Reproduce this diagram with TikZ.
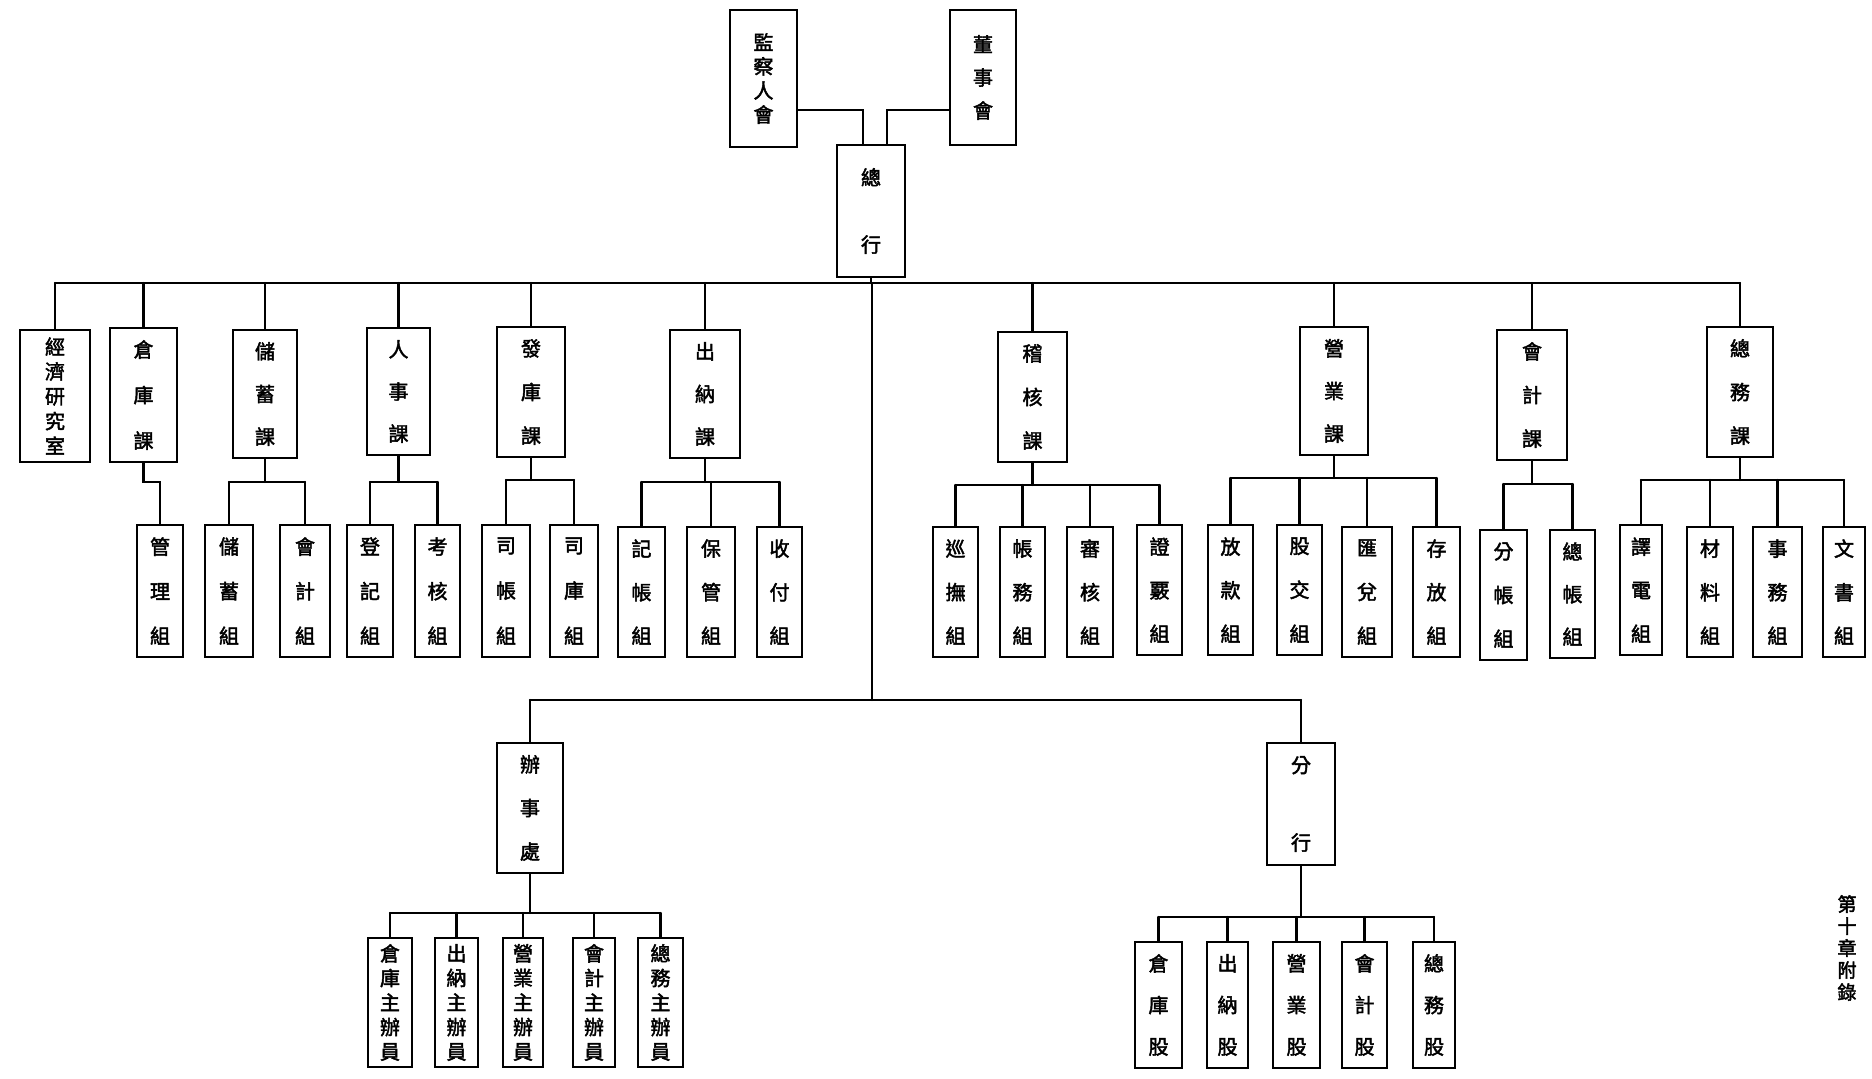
\documentclass[tikz,border=0pt]{standalone}
\usepackage{fontspec}
\newfontfamily\cjk[AutoFakeBold=2.2]{Noto Sans CJK TC}
\newcommand{\VS}{\par\vfill}
% \bx{name}{x1}{y1}{x2}{y2}{pad}{chars}
\newcommand{\bx}[7]{\node[orgbox, minimum width={#4-#2}, minimum height={#5-#3}] (#1) at ({(#2+#4)/2},{(#3+#5)/2}) {\parbox[c][\dimexpr #5pt-#3pt-#6pt-#6pt\relax][s]{30pt}{\centering #7}};}
\begin{document}
\begin{tikzpicture}[x=1pt,y=-1pt,
  line width=2.2pt, line cap=round,
  orgbox/.style={draw, line width=2pt, inner sep=0pt, font=\cjk\bfseries\fontsize{20}{22}\selectfont},
  sidetext/.style={inner sep=0pt, font=\cjk\bfseries\fontsize{19}{22}\selectfont}]
\fill[white] (0,0) rectangle (1872,1079);
\useasboundingbox (0,0) rectangle (1872,1079);

% ---- top ----
\bx{jc}{730}{10}{797}{147}{24}{監\VS 察\VS 人\VS 會}
\bx{ds}{950}{10}{1016}{145}{26}{董\VS 事\VS 會}
\bx{zh}{837}{145}{905}{277}{24}{總\VS 行}

% ---- level 2 ----
\bx{jj}{20}{330}{90}{462}{8}{經\VS 濟\VS 研\VS 究\VS 室}
\bx{ck}{110}{328}{177}{462}{13}{倉\VS 庫\VS 課}
\bx{cx}{233}{330}{297}{458}{13}{儲\VS 蓄\VS 課}
\bx{rs}{367}{328}{430}{455}{13}{人\VS 事\VS 課}
\bx{fk}{497}{327}{565}{457}{13}{發\VS 庫\VS 課}
\bx{cn}{670}{330}{740}{458}{13}{出\VS 納\VS 課}
\bx{jh}{998}{332}{1067}{462}{13}{稽\VS 核\VS 課}
\bx{yy}{1300}{327}{1368}{455}{13}{營\VS 業\VS 課}
\bx{kj}{1497}{330}{1567}{460}{13}{會\VS 計\VS 課}
\bx{zw}{1707}{327}{1773}{457}{13}{總\VS 務\VS 課}

% ---- level 3 ----
\bx{c1}{137}{525}{183}{657}{13}{管\VS 理\VS 組}
\bx{c2}{205}{525}{253}{657}{13}{儲\VS 蓄\VS 組}
\bx{c3}{280}{525}{330}{657}{13}{會\VS 計\VS 組}
\bx{c4}{347}{525}{393}{657}{13}{登\VS 記\VS 組}
\bx{c5}{415}{525}{460}{657}{13}{考\VS 核\VS 組}
\bx{c6}{482}{525}{530}{657}{13}{司\VS 帳\VS 組}
\bx{c7}{550}{525}{598}{657}{13}{司\VS 庫\VS 組}
\bx{c8}{618}{527}{665}{657}{13}{記\VS 帳\VS 組}
\bx{c9}{687}{527}{735}{657}{13}{保\VS 管\VS 組}
\bx{c10}{757}{527}{802}{657}{13}{收\VS 付\VS 組}
\bx{d1}{933}{527}{978}{657}{13}{巡\VS 撫\VS 組}
\bx{d2}{1000}{527}{1045}{657}{13}{帳\VS 務\VS 組}
\bx{d3}{1067}{527}{1113}{657}{13}{審\VS 核\VS 組}
\bx{d4}{1137}{525}{1182}{655}{13}{證\VS 覈\VS 組}
\bx{e1}{1208}{525}{1253}{655}{13}{放\VS 款\VS 組}
\bx{e2}{1277}{525}{1322}{655}{13}{股\VS 交\VS 組}
\bx{e3}{1342}{527}{1392}{657}{13}{匯\VS 兌\VS 組}
\bx{e4}{1413}{527}{1460}{657}{13}{存\VS 放\VS 組}
\bx{f1}{1480}{530}{1527}{660}{13}{分\VS 帳\VS 組}
\bx{f2}{1550}{530}{1595}{658}{13}{總\VS 帳\VS 組}
\bx{g1}{1620}{525}{1662}{655}{13}{譯\VS 電\VS 組}
\bx{g2}{1687}{527}{1733}{657}{13}{材\VS 料\VS 組}
\bx{g3}{1753}{527}{1802}{657}{13}{事\VS 務\VS 組}
\bx{g4}{1823}{527}{1865}{657}{13}{文\VS 書\VS 組}

% ---- bottom ----
\bx{bs}{497}{743}{563}{873}{13}{辦\VS 事\VS 處}
\bx{fh}{1267}{743}{1335}{865}{14}{分\VS 行}
\bx{b1}{368}{938}{412}{1067}{7}{倉\VS 庫\VS 主\VS 辦\VS 員}
\bx{b2}{435}{938}{478}{1067}{7}{出\VS 納\VS 主\VS 辦\VS 員}
\bx{b3}{503}{938}{543}{1067}{7}{營\VS 業\VS 主\VS 辦\VS 員}
\bx{b4}{573}{938}{615}{1067}{7}{會\VS 計\VS 主\VS 辦\VS 員}
\bx{b5}{638}{938}{683}{1067}{7}{總\VS 務\VS 主\VS 辦\VS 員}
\bx{s1}{1135}{942}{1182}{1068}{13}{倉\VS 庫\VS 股}
\bx{s2}{1207}{942}{1248}{1068}{13}{出\VS 納\VS 股}
\bx{s3}{1273}{942}{1320}{1068}{13}{營\VS 業\VS 股}
\bx{s4}{1342}{942}{1387}{1068}{13}{會\VS 計\VS 股}
\bx{s5}{1413}{942}{1455}{1068}{13}{總\VS 務\VS 股}

\node[sidetext] (side) at (1847,948) {\parbox{22pt}{\centering 第\\十\\章\\附\\錄}};

% ---- connectors: top ----
\coordinate (jcT) at (863,110);
\coordinate (dsT) at (887,110);
\draw (jc.east |- jcT) -- (jcT) -- (jcT |- zh.north);
\draw (ds.west |- dsT) -- (dsT) -- (dsT |- zh.north);

% main bar
\coordinate (mL) at (55,283);
\coordinate (mR) at (1740,283);
\draw (mL) -- (mR);
\draw (zh.south) -- (zh.south |- mL);
\foreach \n in {jj,ck,cx,rs,fk,cn,jh,yy,kj,zw}
  \draw (\n.north) -- (\n.north |- mL);

% central stem and lower bar
\coordinate (cT) at (872,283);
\coordinate (cB) at (872,700);
\draw (cT) -- (cB);
\draw (bs.north |- cB) -- (fh.north |- cB);
\draw (bs.north) -- (bs.north |- cB);
\draw (fh.north) -- (fh.north |- cB);

% groups
\coordinate (yCK) at (0,482);
\draw (ck.south) -- (ck.south |- yCK) -- (c1.north |- yCK) -- (c1.north);

\coordinate (yCX) at (0,482);
\draw (cx.south) -- (cx.south |- yCX);
\draw (c2.north |- yCX) -- (c3.north |- yCX);
\foreach \c in {c2,c3} \draw (\c.north) -- (\c.north |- yCX);

\coordinate (yRS) at (0,482);
\draw (rs.south) -- (rs.south |- yRS);
\draw (c4.north |- yRS) -- (c5.north |- yRS);
\foreach \c in {c4,c5} \draw (\c.north) -- (\c.north |- yRS);

\coordinate (yFK) at (0,480);
\draw (fk.south) -- (fk.south |- yFK);
\draw (c6.north |- yFK) -- (c7.north |- yFK);
\foreach \c in {c6,c7} \draw (\c.north) -- (\c.north |- yFK);

\coordinate (yCN) at (0,482);
\draw (cn.south) -- (cn.south |- yCN);
\draw (c8.north |- yCN) -- (c10.north |- yCN);
\foreach \c in {c8,c9,c10} \draw (\c.north) -- (\c.north |- yCN);

\coordinate (yJH) at (0,485);
\draw (jh.south) -- (jh.south |- yJH);
\draw (d1.north |- yJH) -- (d4.north |- yJH);
\foreach \c in {d1,d2,d3,d4} \draw (\c.north) -- (\c.north |- yJH);

\coordinate (yYY) at (0,478);
\draw (yy.south) -- (yy.south |- yYY);
\draw (e1.north |- yYY) -- (e4.north |- yYY);
\foreach \c in {e1,e2,e3,e4} \draw (\c.north) -- (\c.north |- yYY);

\coordinate (yKJ) at (0,484);
\draw (kj.south) -- (kj.south |- yKJ);
\draw (f1.north |- yKJ) -- (f2.north |- yKJ);
\foreach \c in {f1,f2} \draw (\c.north) -- (\c.north |- yKJ);

\coordinate (yZW) at (0,480);
\draw (zw.south) -- (zw.south |- yZW);
\draw (g1.north |- yZW) -- (g4.north |- yZW);
\foreach \c in {g1,g2,g3,g4} \draw (\c.north) -- (\c.north |- yZW);

\coordinate (yBS) at (0,913);
\draw (bs.south) -- (bs.south |- yBS);
\draw (b1.north |- yBS) -- (b5.north |- yBS);
\foreach \c in {b1,b2,b3,b4,b5} \draw (\c.north) -- (\c.north |- yBS);

\coordinate (yFH) at (0,917);
\draw (fh.south) -- (fh.south |- yFH);
\draw (s1.north |- yFH) -- (s5.north |- yFH);
\foreach \c in {s1,s2,s3,s4,s5} \draw (\c.north) -- (\c.north |- yFH);
\end{tikzpicture}
\end{document}
